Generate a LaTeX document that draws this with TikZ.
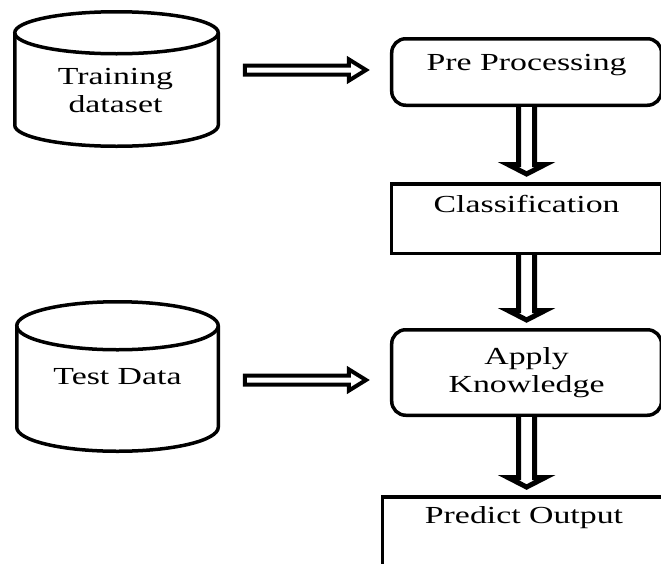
\documentclass[tikz,border=0pt]{standalone}
\usepackage{fontspec}
\setmainfont{Liberation Serif}[FakeStretch=1.38]
\usetikzlibrary{calc}

\tikzset{
    txt/.style={font=\fontsize{24.5}{28}\selectfont, align=center, inner sep=0},
    db/.style={inner sep=0, outer sep=0, txt},
    dbline/.style={line width=3.5pt},
    procbox/.style={draw, line width=3.5pt, rounded corners=14pt, minimum width=269.75pt, inner sep=0, txt},
    stagebox/.style={draw, line width=3.5pt, minimum width=269.75pt, inner sep=0, txt},
    harrow/.style={draw, fill=white, line width=4pt, to path={
        let \p1=(\tikztostart), \p2=(\tikztotarget) in
        (\x1+26.5pt,\y2+4.5pt) -- (\x2-41pt,\y2+4.5pt) -- (\x2-41pt,\y2+10.5pt) -- (\x2-24pt,\y2)
        -- (\x2-41pt,\y2-10.5pt) -- (\x2-41pt,\y2-4.5pt) -- (\x1+26.5pt,\y2-4.5pt) -- cycle}},
    varrow/.style={draw, fill=white, line width=5pt, to path={
        let \p1=(\tikztostart), \p2=(\tikztotarget) in
        (\x1-8pt,\y1) -- (\x1-8pt,\y2+17.5pt) -- (\x1-18.5pt,\y2+17.5pt) -- (\x1,\y2+8pt)
        -- (\x1+18.5pt,\y2+17.5pt) -- (\x1+8pt,\y2+17.5pt) -- (\x1+8pt,\y1)}}
}

\begin{document}
\begin{tikzpicture}[x=1pt,y=-1pt]
    \useasboundingbox (0,0) rectangle (661,563);

    % data stores
    \node[db, minimum width=203.5pt, minimum height=134.5pt] (train) at (116.5,79) {};
    \node[txt] (traintext) at (115.5,90.8) {Training\\dataset};
    \draw[dbline] ([yshift=-21pt]train.north) ellipse [x radius=101.75pt, y radius=21pt];
    \draw[dbline] ([yshift=-21pt]train.north west) -- ([yshift=21pt]train.south west)
        arc[start angle=180, end angle=360, x radius=101.75pt, y radius=21pt] -- ([yshift=-21pt]train.north east);

    \node[db, minimum width=201.5pt, minimum height=149.5pt] (test) at (117.5,376.5) {Test Data};
    \draw[dbline] ([yshift=-24pt]test.north) ellipse [x radius=100.75pt, y radius=24pt];
    \draw[dbline] ([yshift=-24pt]test.north west) -- ([yshift=24pt]test.south west)
        arc[start angle=180, end angle=360, x radius=100.75pt, y radius=24pt] -- ([yshift=-24pt]test.north east);

    % processing chain
    \node[procbox, text height=31.25pt, text depth=35.25pt] (pre) at (526.6,72) {Pre Processing};
    \node[stagebox, text height=28.25pt, text depth=41.25pt] (cls) at (526.6,218.5) {Classification};
    \node[procbox, minimum height=85.5pt] (app) at (526.6,372.5) {Apply\\Knowledge};
    \node[stagebox, minimum width=283pt, text height=26.25pt, text depth=60pt] (out) at (524,539.9) {Predict Output};

    % arrows
    \draw[harrow] (train.east) to ([yshift=2pt]pre.west);
    \draw[harrow] (test.east) to ([yshift=-7.5pt]app.west);
    \draw[varrow] (pre.south) to (cls.north);
    \draw[varrow] (cls.south) to (app.north);
    \draw[varrow] (app.south) to (out.north);
\end{tikzpicture}
\end{document}
